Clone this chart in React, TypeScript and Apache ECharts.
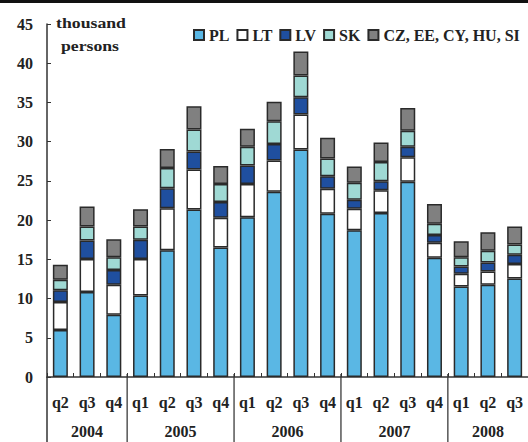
import React, { useEffect, useRef } from 'react';
import * as echarts from 'echarts';

const quarters = ['q2','q3','q4','q1','q2','q3','q4','q1','q2','q3','q4','q1','q2','q3','q4','q1','q2','q3'];
const years = ['2004', '2005', '2006', '2007', '2008'];
const yearCounts = [3, 4, 4, 4, 3];
const yTicks = [0, 5, 10, 15, 20, 25, 30, 35, 40, 45];

const PL = [6.0, 10.85, 7.95, 10.4, 16.15, 21.35, 16.5, 20.35, 23.6, 29.0, 20.8, 18.7, 20.9, 24.9, 15.2, 11.55, 11.75, 12.55];
const LT = [3.55, 4.2, 3.8, 4.65, 5.35, 5.1, 3.8, 4.25, 4.0, 4.45, 3.2, 2.75, 2.9, 3.1, 1.9, 1.6, 1.7, 1.85];
const LV = [1.5, 2.35, 1.9, 2.45, 2.55, 2.3, 2.0, 2.35, 2.1, 2.2, 1.6, 1.15, 1.15, 1.35, 1.0, 0.95, 1.15, 1.2];
const SK = [1.35, 1.8, 1.6, 1.7, 2.6, 2.8, 2.3, 2.4, 2.9, 2.8, 2.25, 2.15, 2.45, 2.05, 1.45, 1.15, 1.5, 1.3];
const OTHER = [1.9, 2.55, 2.3, 2.2, 2.4, 2.95, 2.3, 2.3, 2.5, 3.05, 2.65, 2.1, 2.5, 2.9, 2.5, 2.05, 2.35, 2.3];

const seriesNames = ['PL', 'LT', 'LV', 'SK', 'CZ, EE, CY, HU, SI'];
const seriesData = [PL, LT, LV, SK, OTHER];
const seriesColors = ['#5ab7e4', '#ffffff', '#1f4f9f', '#9fd9d4', '#808080'];

const FONT = "Liberation Serif";
const INK = '#222222';

export default function App() {
  const ref = useRef<HTMLDivElement>(null);

  useEffect(() => {
    if (!ref.current) return;
    const chart = echarts.init(ref.current, undefined, { renderer: 'svg' });

    // unique category ids built from year + quarter
    const categories: string[] = [];
    let k = 0;
    years.forEach((y, yi) => {
      for (let j = 0; j < yearCounts[yi]; j++) {
        categories.push(y + ' ' + quarters[k]);
        k++;
      }
    });

    const option: any = {
      animation: false,
      backgroundColor: '#ffffff',
      grid: { left: 47, right: 0, top: 24, bottom: 65, containLabel: false },
      legend: {
        data: seriesNames,
        left: 193,
        top: 27,
        padding: 0,
        itemWidth: 10,
        itemHeight: 10,
        itemGap: 7,
        icon: 'rect',
        textStyle: { fontFamily: FONT, fontWeight: 'bold', fontSize: 16, color: INK },
      },
      xAxis: [
        {
          type: 'category',
          data: categories,
          axisLine: { show: true, lineStyle: { color: '#333', width: 1.5 } },
          axisTick: { show: true, inside: true, length: 4, interval: 0, lineStyle: { color: '#333', width: 1 } },
          axisLabel: {
            interval: 0,
            margin: 17,
            fontFamily: FONT,
            fontWeight: 'bold',
            fontSize: 16,
            color: INK,
            formatter: (_v: string, i: number) => quarters[i],
          },
          splitLine: { show: false },
        },
        {
          type: 'category',
          data: categories,
          position: 'bottom',
          axisLine: { show: false },
          axisTick: { show: true, inside: true, alignWithLabel: true, length: 3, interval: 0, lineStyle: { color: '#333', width: 1 } },
          axisLabel: { show: false },
          splitLine: { show: false },
        },
      ],
      yAxis: {
        type: 'value',
        min: yTicks[0],
        max: yTicks[yTicks.length - 1],
        interval: 5,
        axisLine: { show: true, lineStyle: { color: '#333', width: 1.5 } },
        axisTick: { show: true, inside: true, length: 4, lineStyle: { color: '#333', width: 1 } },
        axisLabel: { margin: 14, fontFamily: FONT, fontWeight: 'bold', fontSize: 16, color: INK },
        splitLine: { show: false },
      },
      series: seriesNames.map((name, i) => ({
        name,
        type: 'bar',
        stack: 'total',
        xAxisIndex: 0,
        barWidth: 15,
        data: seriesData[i],
        itemStyle: { color: seriesColors[i], borderColor: '#2a2a2a', borderWidth: 1.5 },
      })),
    };
    chart.setOption(option);

    // Build separators and year labels from the axis scale
    const xs = categories.map((c) => chart.convertToPixel({ xAxisIndex: 0 }, c) as number);
    const step = xs[1] - xs[0];
    const y0 = chart.convertToPixel({ yAxisIndex: 0 }, 0) as number;
    const textStyle = (text: string, size: number) => ({
      text,
      fontFamily: FONT,
      fontWeight: 'bold',
      fontSize: size,
      fill: INK,
      align: 'center',
      verticalAlign: 'middle',
    });
    const graphics: any[] = [
      { type: 'rect', shape: { x: 0, y: 0, width: 528, height: 3 }, style: { fill: '#111' }, z: 10 },
      {
        type: 'line',
        shape: { x1: xs[0] - step / 2, y1: y0, x2: xs[0] - step / 2, y2: 442 },
        style: { stroke: '#333', lineWidth: 1.5 },
      },
      { type: 'text', x: 91, y: 23, scaleX: 1.18, style: textStyle('thousand', 15) },
      { type: 'text', x: 90, y: 46, scaleX: 1.18, style: textStyle('persons', 15) },
    ];
    let start = 0;
    years.forEach((yr, yi) => {
      const end = start + yearCounts[yi] - 1;
      const left = xs[start] - step / 2;
      const right = xs[end] + step / 2;
      if (yi > 0) {
        graphics.push({
          type: 'line',
          shape: { x1: left, y1: y0 - 3, x2: left, y2: 442 },
          style: { stroke: '#555', lineWidth: 1.5 },
        });
      }
      graphics.push({
        type: 'text',
        x: (left + right) / 2,
        y: y0 + 54,
        style: textStyle(yr, 16),
      });
      start = end + 1;
    });
    chart.setOption({ graphic: graphics });

    return () => chart.dispose();
  }, []);

  return (
    <div
      ref={ref}
      style={{ position: 'absolute', left: 0, top: 0, width: 528, height: 442, background: '#fff' }}
    />
  );
}
